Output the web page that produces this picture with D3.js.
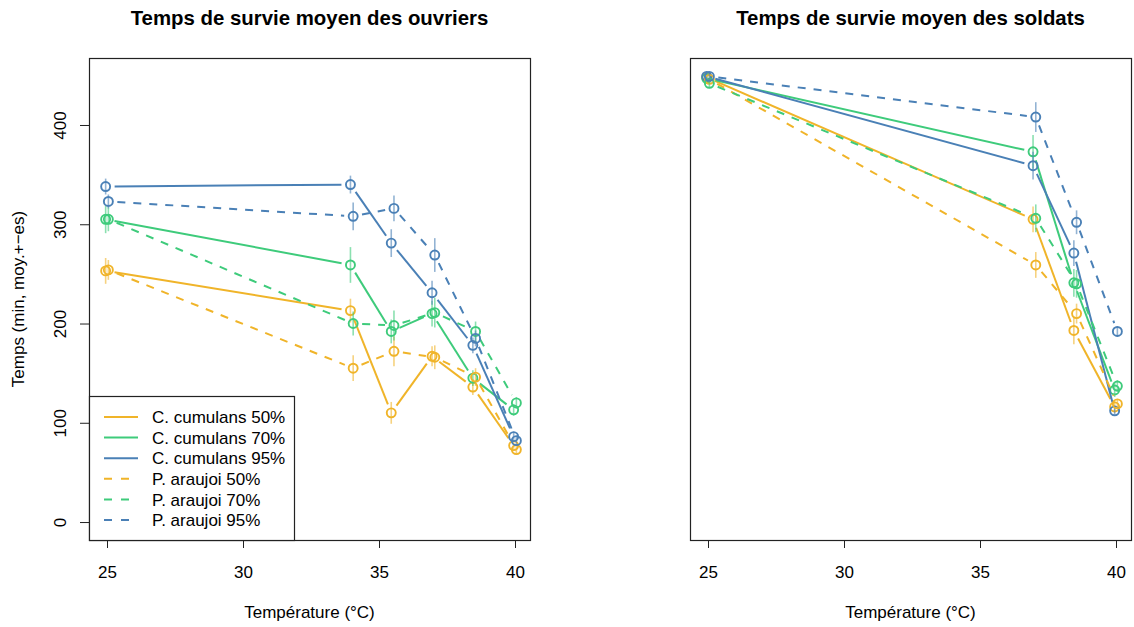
<!DOCTYPE html>
<html>
<head>
<meta charset="utf-8">
<script src="https://cdn.jsdelivr.net/npm/d3@7"></script>
<style>
  html, body { margin: 0; padding: 0; background: #fff; }
  svg { display: block; font-family: "Liberation Sans", Arial, Helvetica, sans-serif; }
</style>
</head>
<body>
<svg id="chart" width="1134" height="627"></svg>
<script>
// Températures testées
const tempOuvriers = [25, 34, 35.5, 37, 38.5, 40];
const tempSoldats = [25, 37, 38.5, 40];

// Séries (espèce x humidité)
const seriesNoms = ["C. cumulans 50%", "C. cumulans 70%", "C. cumulans 95%",
                    "P. araujoi 50%", "P. araujoi 70%", "P. araujoi 95%"];
const seriesCouleurs = ["#F0B429", "#3ECB7B", "#4A80B6", "#F0B429", "#3ECB7B", "#4A80B6"];
const seriesTirets = [false, false, false, true, true, true];

// Ouvriers : moyennes (min)
const ouvCc50 = [253, 213, 110, 167, 136, 77];
const ouvCc70 = [305, 259, 192, 210, 145, 113];
const ouvCc95 = [338, 340, 281, 231, 178, 86];
const ouvPa50 = [254, 155, 172, 166, 146, 73];
const ouvPa70 = [305, 200, 198, 211, 192, 120];
const ouvPa95 = [323, 308, 316, 269, 185, 82];
// Ouvriers : erreurs standard
const ouvCc50Es = [13, 12, 11, 10, 8, 5];
const ouvCc70Es = [14, 18, 12, 13, 8, 6];
const ouvCc95Es = [8, 9, 14, 12, 8, 5];
const ouvPa50Es = [10, 13, 15, 12, 9, 5];
const ouvPa70Es = [12, 12, 15, 15, 10, 6];
const ouvPa95Es = [7, 14, 13, 17, 8, 5];

// Soldats : moyennes (min)
const solCc50 = [448, 305, 193, 116];
const solCc70 = [447, 373, 241, 133];
const solCc95 = [449, 359, 271, 112];
const solPa50 = [446, 259, 210, 119];
const solPa70 = [442, 306, 240, 137];
const solPa95 = [449, 408, 302, 192];
// Soldats : erreurs standard
const solCc50Es = [5, 13, 14, 6];
const solCc70Es = [5, 17, 14, 7];
const solCc95Es = [4, 14, 13, 5];
const solPa50Es = [4, 13, 10, 5];
const solPa70Es = [5, 14, 14, 6];
const solPa95Es = [4, 15, 12, 5];

const yTicks = [0, 100, 200, 300, 400];
const xTicks = [25, 30, 35, 40];

const panneaux = [
  { titre: "Temps de survie moyen des ouvriers", x0: 89, x1: 530, temps: tempOuvriers,
    moy: [ouvCc50, ouvCc70, ouvCc95, ouvPa50, ouvPa70, ouvPa95],
    es: [ouvCc50Es, ouvCc70Es, ouvCc95Es, ouvPa50Es, ouvPa70Es, ouvPa95Es],
    axeY: true, legende: true },
  { titre: "Temps de survie moyen des soldats", x0: 690, x1: 1131, temps: tempSoldats,
    moy: [solCc50, solCc70, solCc95, solPa50, solPa70, solPa95],
    es: [solCc50Es, solCc70Es, solCc95Es, solPa50Es, solPa70Es, solPa95Es],
    axeY: false, legende: false }
];

const svg = d3.select("#chart");
const yTop = 58, yBot = 540;
const taille = 17;       // corps du texte
const y = d3.scaleLinear().domain([-18.1, 467.5]).range([yBot, yTop]);
const decalage = 0.05;   // léger décalage horizontal entre espèces
const ecart = 9;         // espace laissé autour des points (type "b")

panneaux.forEach(p => {
  const x = d3.scaleLinear().domain([24.338, 40.551]).range([p.x0, p.x1]);
  const g = svg.append("g");

  // Titre
  g.append("text")
    .attr("x", (p.x0 + p.x1) / 2).attr("y", 25)
    .attr("text-anchor", "middle")
    .attr("font-weight", "bold").attr("font-size", 20.4)
    .text(p.titre);

  // Axe X
  const axeX = g.append("g").attr("transform", `translate(0,${yBot})`)
    .call(d3.axisBottom(x).tickValues(xTicks).tickSize(8).tickPadding(18).tickFormat(d3.format("d")));
  axeX.select(".domain").remove();
  axeX.selectAll("line").attr("stroke", "#222");
  axeX.selectAll("text").attr("font-size", taille).attr("font-family", "Liberation Sans, Arial, sans-serif").attr("fill", "#000");

  g.append("text")
    .attr("x", (p.x0 + p.x1) / 2).attr("y", 618)
    .attr("text-anchor", "middle").attr("font-size", taille)
    .text("Température (°C)");

  // Axe Y
  if (p.axeY) {
    const axeY = g.append("g").attr("transform", `translate(${p.x0},0)`)
      .call(d3.axisLeft(y).tickValues(yTicks).tickSize(9).tickFormat(d3.format("d")));
    axeY.select(".domain").remove();
    axeY.selectAll("line").attr("stroke", "#222");
    axeY.selectAll("text").remove();
    axeY.selectAll(".tick").append("text")
      .attr("transform", "translate(-29,0) rotate(-90)")
      .attr("text-anchor", "middle").attr("dy", "0.35em")
      .attr("font-size", taille).attr("fill", "#000")
      .attr("font-family", "Liberation Sans, Arial, sans-serif")
      .text(d => d);
    g.append("text")
      .attr("transform", `translate(24,${(yTop + yBot) / 2}) rotate(-90)`)
      .attr("text-anchor", "middle").attr("font-size", taille)
      .text("Temps (min, moy.+−es)");
  }

  const zone = g.append("g");

  p.moy.forEach((vals, s) => {
    const col = seriesCouleurs[s];
    const dx = seriesTirets[s] ? decalage : -decalage;
    const pts = vals.map((v, i) => ({ t: p.temps[i] + dx, v: v, e: p.es[s][i] }));

    // Barres d'erreur
    zone.selectAll(null).data(pts).enter().append("line")
      .attr("x1", d => x(d.t)).attr("x2", d => x(d.t))
      .attr("y1", d => y(d.v - d.e)).attr("y2", d => y(d.v + d.e))
      .attr("stroke", col).attr("stroke-opacity", 0.6).attr("stroke-width", 1.6);

    // Segments entre points, interrompus autour des symboles
    const segs = d3.pairs(pts).map(([a, b]) => {
      const ax = x(a.t), ay = y(a.v), bx = x(b.t), by = y(b.v);
      const L = Math.hypot(bx - ax, by - ay);
      if (L <= 2 * ecart) return null;
      const ux = (bx - ax) / L, uy = (by - ay) / L;
      return [ax + ux * ecart, ay + uy * ecart, bx - ux * ecart, by - uy * ecart];
    }).filter(d => d);
    zone.selectAll(null).data(segs).enter().append("line")
      .attr("x1", d => d[0]).attr("y1", d => d[1])
      .attr("x2", d => d[2]).attr("y2", d => d[3])
      .attr("stroke", col).attr("stroke-width", 2)
      .attr("stroke-dasharray", seriesTirets[s] ? "8,8" : null);

    // Points
    zone.selectAll(null).data(pts).enter().append("circle")
      .attr("cx", d => x(d.t)).attr("cy", d => y(d.v)).attr("r", 4.5)
      .attr("fill", "none").attr("stroke", col).attr("stroke-width", 1.9);
  });

  // Cadre
  g.append("rect")
    .attr("x", p.x0 + 0.5).attr("y", yTop + 0.5)
    .attr("width", p.x1 - p.x0).attr("height", yBot - yTop)
    .attr("fill", "none").attr("stroke", "#222").attr("stroke-width", 1.2);

  // Légende
  if (p.legende) {
    const lg = g.append("g");
    lg.append("rect")
      .attr("x", p.x0 + 0.5).attr("y", 396.5).attr("width", 205).attr("height", yBot - 396)
      .attr("fill", "#fff").attr("stroke", "#222").attr("stroke-width", 1.2);
    seriesNoms.forEach((nom, s) => {
      const yy = 417 + s * 20.6;
      lg.append("line")
        .attr("x1", 104).attr("x2", 138).attr("y1", yy).attr("y2", yy)
        .attr("stroke", seriesCouleurs[s]).attr("stroke-width", 2)
        .attr("stroke-dasharray", seriesTirets[s] ? "8,9" : null);
      lg.append("text")
        .attr("x", 152).attr("y", yy).attr("dy", "0.36em")
        .attr("font-size", taille).text(nom);
    });
  }
});
</script>
</body>
</html>
